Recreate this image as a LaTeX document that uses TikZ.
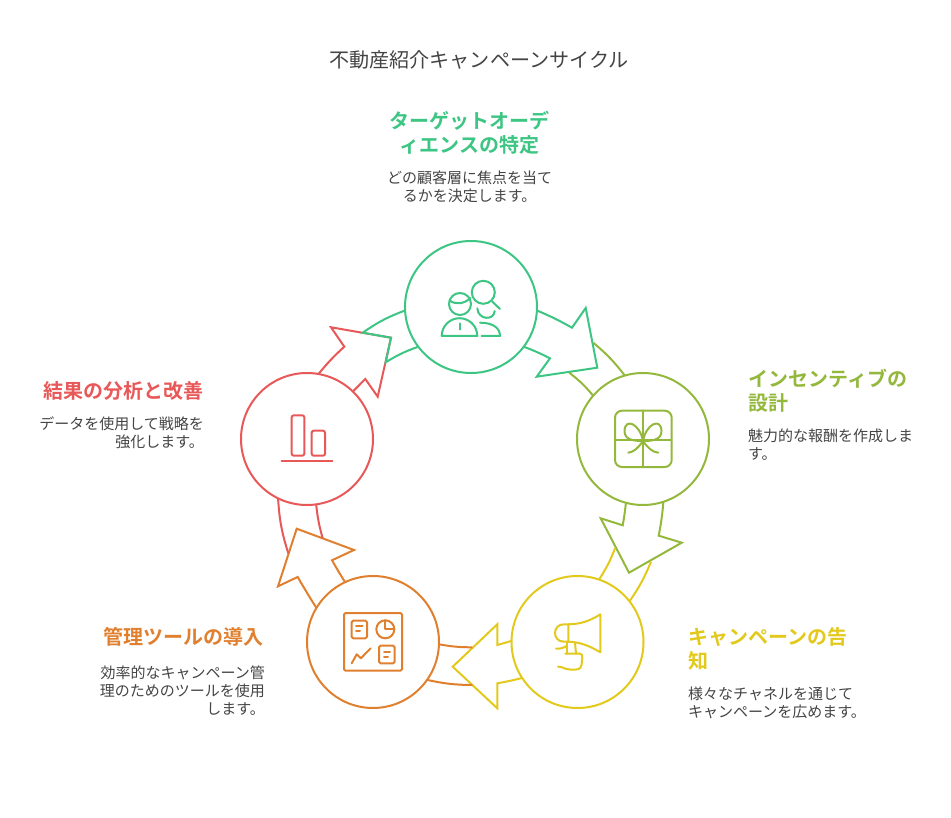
\documentclass[tikz,border=0pt]{standalone}
\usepackage{fontspec}
\setmainfont{Noto Sans CJK JP}[BoldFont={Noto Sans CJK JP Bold}]
\definecolor{cgreen}{HTML}{3CC583}
\definecolor{colive}{HTML}{93B83C}
\definecolor{cyellow}{HTML}{E2C91B}
\definecolor{corange}{HTML}{E0802F}
\definecolor{cred}{HTML}{E85858}
\definecolor{ctext}{HTML}{444444}
\tikzset{
  ring/.style={circle,draw,line width=2pt,minimum size=132pt,inner sep=0pt,outer sep=0pt},
  shapeline/.style={line width=2pt,line join=miter},
  iconline/.style={line width=2pt,line cap=round,line join=round},
  titletext/.style={inner sep=0pt,text=ctext,font=\fontsize{20.1}{24}\selectfont},
  headtext/.style={inner sep=0pt,font=\fontsize{20}{24}\selectfont\bfseries},
  bodytext/.style={inner sep=0pt,text=ctext,font=\fontsize{15}{18}\selectfont},
}
\begin{document}
\begin{tikzpicture}[x=1pt,y=-1pt]
\useasboundingbox (0,0) rectangle (951,818);
\node[ring,draw=cgreen] (g) at (471,307) {};
\node[ring,draw=colive] (o) at (643,439) {};
\node[ring,draw=cyellow] (y) at (577.5,642) {};
\node[ring,draw=corange] (r) at (373,642) {};
\node[ring,draw=cred] (e) at (307,439) {};
% red arrow
\draw[shapeline,cred] (e.80) to[bend left=4] (344.3,346.7) -- (331,327.3) -- (391,337.7) -- (377.7,396.7) -- (365.3,379) -- (e.46);
% green arrow
\draw[shapeline,cgreen] (g.-3) to[bend left=3] (572,327.7) -- (585.7,308) -- (597.3,367.7) -- (536.7,376.7) -- (550,358.3) to[bend right=3] (g.-37);
\draw[shapeline,cgreen] (g.183) to[bend right=7] (362.7,332.7) -- (391,337.7) -- (385.7,362.3) to[bend left=6] (g.217.6);
% olive arrow
\draw[shapeline,colive] (o.-105) to[bend left=2] (622.7,525.3) -- (600.7,518.3) -- (629,572.7) -- (681.7,542.7) -- (658.7,535.7) to[bend right=3] (o.-72);
\draw[shapeline,colive] (593.3,342.7) to[bend left=6] (o.106);
\draw[shapeline,colive] (569.3,372.7) to[bend left=6] (o.139);
% yellow arrow
\draw[shapeline,cyellow] (y.179) to[bend left=1] (497.3,645) -- (497.3,624.3) -- (452.7,666.7) -- (497.3,708.3) -- (497.3,683.3) to[bend right=2] (y.-147);
\draw[shapeline,cyellow] (651,561.7) to[bend left=6] (y.38);
\draw[shapeline,cyellow] (615,548.3) to[bend left=6] (y.71);
% orange arrow
\draw[shapeline,corange] (r.149) to[bend left=1] (297.7,577) -- (278,586.3) -- (296.7,528.7) -- (354,550) -- (332,560.3) to[bend right=1] (r.115);
\draw[shapeline,corange] (472.3,685) to[bend left=6] (r.-35);
\draw[shapeline,corange] (472.3,647.3) to[bend left=5] (r.-2);
% red tails
\draw[shapeline,cred] (288.3,553.3) to[bend left=7] (e.-116);
\draw[shapeline,cred] (322.7,538.3) to[bend left=5] (e.-82);
% green icon
\begin{scope}[iconline,cgreen]
\draw (460,304) circle (11);
\draw (449.5,300.5) .. controls (456,305) and (464,304) .. (470.5,298);
\draw (441.7,336) -- (477.3,336) arc[start angle=0,end angle=-180,radius=17.8];
\draw (460,323.5) -- (460,329.5);
\draw (483.3,292.3) circle (11.5);
\draw (492.3,301.7) -- (500,309);
\draw (477.3,308.3) .. controls (478,320) and (494,321) .. (494.7,311);
\draw (481.7,336) -- (500,336) .. controls (500,328) and (493,322.7) .. (480,322.7);
\end{scope}
% olive icon
\begin{scope}[iconline,colive]
\draw[rounded corners=7pt] (615,410.7) rectangle (671.7,467);
\draw (643,410.7) -- (643,467);
\draw (615,440.3) -- (671.7,440.3);
\draw (643,441) .. controls (640,424) and (625,417) .. (624.5,431) .. controls (624.5,440) and (634,441) .. (643,441);
\draw (643,441) .. controls (646,424) and (661,417) .. (661.5,431) .. controls (661.5,440) and (652,441) .. (643,441);
\draw (643,441) .. controls (638,448) and (634,452) .. (628.3,452.7);
\draw (643,441) .. controls (648,448) and (652,452) .. (658.3,452.7);
\end{scope}
% yellow icon
\begin{scope}[iconline,cyellow]
\draw (600.3,614.3) -- (600.3,652.3) .. controls (590,646) and (580,642) .. (568.3,641.7) -- (568.3,624.3) .. controls (580,624.3) and (590,621) .. (600.3,614.3);
\draw (568.3,624.3) -- (564,624.3) .. controls (552,624.3) and (552,641.7) .. (564,641.7) -- (568.3,641.7);
\draw (566.7,642.7) -- (566.7,653.7);
\draw (575,642.7) -- (576,653.7);
\draw (565.3,653.7) -- (580,653.7) .. controls (582.3,654) and (582.3,655) .. (582.3,658) -- (581.5,665) .. controls (581,670) and (576,670) .. (570,669.5) .. controls (564,669.5) and (562,666) .. (558,666.7);
\draw (556,648.7) .. controls (560,649) and (563,648) .. (566.7,646);
\end{scope}
% orange icon
\begin{scope}[iconline,corange]
\draw[rounded corners=1.5pt] (344,613) rectangle (402,670.7);
\draw[rounded corners=1.5pt] (351.7,620.7) rectangle (367,638.3);
\draw (356,626) -- (362.5,626);
\draw (356,630.5) -- (360,630.5);
\draw (385.3,629.3) circle (9);
\draw (385.3,620.3) -- (385.3,629.3) -- (394.3,629.3);
\draw[rounded corners=1.5pt] (379,645.7) rectangle (394.7,663.3);
\draw (384,652) -- (390,652);
\draw (384,657) -- (388,657);
\draw (351.7,663.3) -- (356.7,654.3) -- (361,658.3) -- (365,654) -- (370.7,648.3);
\end{scope}
% red icon
\begin{scope}[iconline,cred]
\draw[rounded corners=2pt] (291.7,415.3) rectangle (304.3,455.7);
\draw[rounded corners=2pt] (311.7,430.7) rectangle (325,455.7);
\draw (281.7,460.7) -- (332.3,460.7);
\end{scope}
% texts
\node[titletext] (title) at (479,60) {不動産紹介キャンペーンサイクル};
\node[headtext,text=cgreen,align=center] (h1) at (469.5,132.7) {ターゲットオーデ\\ィエンスの特定};
\node[bodytext,align=center] (b1) at (469.5,186.5) {どの顧客層に焦点を当て\\るかを決定します。};
\node[headtext,text=colive,align=left,anchor=west] (h2) at (748,390.5) {インセンティブの\\設計};
\node[bodytext,align=left,anchor=west] (b2) at (748,444.5) {魅力的な報酬を作成しま\\す。};
\node[headtext,text=cyellow,align=left,anchor=west] (h3) at (688,648.5) {キャンペーンの告\\知};
\node[bodytext,align=left,anchor=west] (b3) at (688,702.5) {様々なチャネルを通じて\\キャンペーンを広めます。};
\node[headtext,text=corange,anchor=east] (h4) at (264,636.5) {管理ツールの導入};
\node[bodytext,align=right,anchor=east] (b4) at (265,690.5) {効率的なキャンペーン管\\理のためのツールを使用\\します。};
\node[headtext,text=cred,anchor=east] (h5) at (204,390.5) {結果の分析と改善};
\node[bodytext,align=right,anchor=east] (b5) at (204,432.5) {データを使用して戦略を\\強化します。};
\end{tikzpicture}
\end{document}
